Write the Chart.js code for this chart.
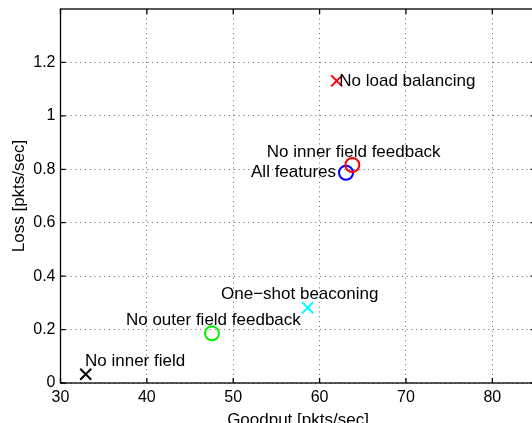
<!DOCTYPE html>
<html>
<head>
<meta charset="utf-8">
<script src="https://cdn.jsdelivr.net/npm/chart.js@4/dist/chart.umd.min.js"></script>
<style>
  html, body { margin: 0; padding: 0; width: 532px; height: 423px; overflow: hidden; background: #fff; }
  canvas { display: block; }
</style>
</head>
<body>
<canvas id="chart" width="540" height="432"></canvas>
<script>
// Protocol configurations: goodput vs. loss
const configNames = [
  'No inner field',
  'No outer field feedback',
  'One\u2212shot beaconing',
  'All features',
  'No inner field feedback',
  'No load balancing'
];
const goodput = [32.92, 47.54, 58.62, 63.06, 63.79, 61.98];   // pkts/sec
const loss    = [0.033, 0.186, 0.282, 0.787, 0.816, 1.131];   // pkts/sec
const markerShapes = ['crossRot', 'circle', 'crossRot', 'circle', 'circle', 'crossRot'];
const markerColors = ['#000000', '#00ee00', '#00ffff', '#0000ff', '#ff0000', '#ff0000'];

// Where each configuration's name is written (left edge, vertical middle)
const labelGoodput = [32.84, 37.58, 48.59, 52.06, 53.88, 62.28];
const labelLoss    = [0.083, 0.236, 0.333, 0.790, 0.865, 1.131];

const xTicks = [30, 40, 50, 60, 70, 80];
const xTickLabels = ['30', '40', '50', '60', '70', '80'];
const yTicks = [0, 0.2, 0.4, 0.6, 0.8, 1.0, 1.2];
const yTickLabels = ['0', '0.2', '0.4', '0.6', '0.8', '1', '1.2'];

const FONT = 'Liberation Sans, Arial, Helvetica, sans-serif';

// Scales should not reserve extra room for their end labels
function noEdgePadding(s) {
  s.paddingTop = 0; s.paddingBottom = 0; s.paddingLeft = 0; s.paddingRight = 0;
}

// Axes box with inward tick marks, and the text annotations
const framePlugin = {
  id: 'frame',
  beforeDatasetsDraw(chart) {
    const { ctx, chartArea: a, scales: { x, y } } = chart;
    ctx.save();
    ctx.strokeStyle = '#000';
    ctx.lineWidth = 1.3;
    ctx.strokeRect(a.left, a.top, a.right - a.left, a.bottom - a.top);
    const len = 5;
    ctx.beginPath();
    xTicks.forEach(v => {
      const px = x.getPixelForValue(v);
      ctx.moveTo(px, a.bottom); ctx.lineTo(px, a.bottom - len);
      ctx.moveTo(px, a.top); ctx.lineTo(px, a.top + len);
    });
    yTicks.forEach(v => {
      const py = y.getPixelForValue(v);
      ctx.moveTo(a.left, py); ctx.lineTo(a.left + len, py);
      ctx.moveTo(a.right, py); ctx.lineTo(a.right - len, py);
    });
    ctx.stroke();
    ctx.restore();
  },
  afterDatasetsDraw(chart) {
    const { ctx, scales: { x, y } } = chart;
    ctx.save();
    ctx.fillStyle = '#000';
    ctx.font = '17px ' + FONT;
    ctx.textAlign = 'left';
    ctx.textBaseline = 'middle';
    configNames.forEach((name, i) => {
      ctx.fillText(name, x.getPixelForValue(labelGoodput[i]), y.getPixelForValue(labelLoss[i]));
    });
    ctx.restore();
  }
};

const points = goodput.map((g, i) => ({ x: g, y: loss[i] }));

new Chart(document.getElementById('chart'), {
  type: 'scatter',
  data: {
    datasets: [{
      data: points,
      pointStyle: markerShapes,
      pointRadius: markerShapes.map(s => s === 'circle' ? 7 : 7.8),
      pointBorderColor: markerColors,
      pointBackgroundColor: 'rgba(0,0,0,0)',
      pointBorderWidth: 2,
      showLine: false
    }]
  },
  options: {
    responsive: false,
    animation: false,
    devicePixelRatio: 1,
    layout: { autoPadding: false, padding: { top: 9, right: 4.5, left: 0, bottom: 0 } },
    plugins: { legend: { display: false }, tooltip: { enabled: false } },
    scales: {
      x: {
        type: 'linear',
        min: 30,
        max: 85,
        afterFit(s) { s.height = 49; noEdgePadding(s); },
        afterBuildTicks(s) { s.ticks = xTicks.map(v => ({ value: v })); },
        ticks: {
          padding: 5,
          color: '#000',
          font: { family: FONT, size: 16 },
          callback: (v) => xTickLabels[xTicks.indexOf(v)]
        },
        grid: { color: '#666', lineWidth: 1, drawTicks: false },
        border: { display: false, dash: [1, 3.8] },
        title: {
          display: true,
          text: 'Goodput [pkts/sec]',
          color: '#000',
          font: { family: FONT, size: 17 },
          padding: { top: 0, bottom: 1 }
        }
      },
      y: {
        type: 'linear',
        min: 0,
        max: 1.4,
        afterFit(s) { s.width = 60.5; noEdgePadding(s); },
        afterBuildTicks(s) { s.ticks = yTicks.map(v => ({ value: v })); },
        ticks: {
          padding: 5,
          color: '#000',
          font: { family: FONT, size: 16 },
          callback: (v) => yTickLabels[yTicks.indexOf(v)]
        },
        grid: { color: '#666', lineWidth: 1, drawTicks: false },
        border: { display: false, dash: [1, 3.8] },
        title: {
          display: true,
          text: 'Loss [pkts/sec]',
          color: '#000',
          font: { family: FONT, size: 17 },
          padding: { top: 9.1, bottom: 0 }
        }
      }
    }
  },
  plugins: [framePlugin]
});
</script>
</body>
</html>
